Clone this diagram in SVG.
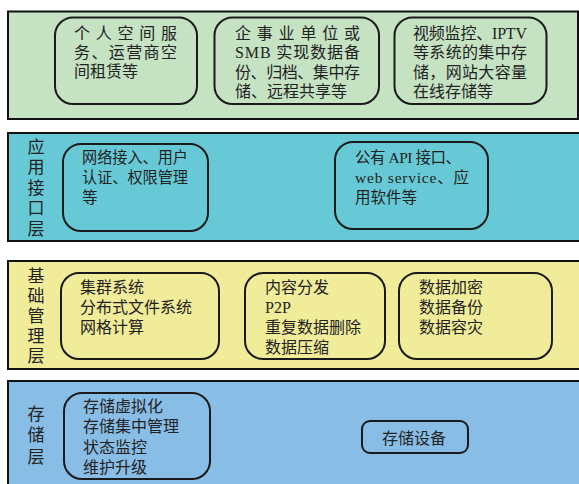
<svg xmlns="http://www.w3.org/2000/svg" width="579" height="484" viewBox="0 0 579 484">
<style>
.layer{stroke:#111;stroke-width:2}
.box{fill:none;stroke:#1a1a1a;stroke-width:2}
text{font-family:"Liberation Serif","Noto Sans CJK SC",serif;fill:#222;font-size:16px}
.lbl{font-size:17px;text-anchor:middle}
.s{font-size:15.5px}
</style>
<rect width="579" height="484" fill="#ffffff"/>
<g id="layer-app">
<rect class="layer" x="8" y="11.5" width="570" height="107.5" fill="#c5e3c3"/>
</g>
<g id="layer-api">
<rect class="layer" x="8" y="133" width="580" height="108" fill="#67c9d5"/>
<text class="lbl" x="36"><tspan x="36" y="152.5">应</tspan><tspan x="36" y="173">用</tspan><tspan x="36" y="193.5">接</tspan><tspan x="36" y="214">口</tspan><tspan x="36" y="234.5">层</tspan></text>
</g>
<g id="layer-mgmt">
<rect class="layer" x="8" y="261" width="580" height="108" fill="#f1ec9a"/>
<text class="lbl" x="36"><tspan x="36" y="281.5">基</tspan><tspan x="36" y="301.5">础</tspan><tspan x="36" y="321.5">管</tspan><tspan x="36" y="341.5">理</tspan><tspan x="36" y="362">层</tspan></text>
</g>
<g id="layer-storage">
<rect class="layer" x="8" y="381" width="580" height="110" fill="#88bde6"/>
<text class="lbl" x="36"><tspan x="36" y="419.5">存</tspan><tspan x="36" y="441">储</tspan><tspan x="36" y="462.5">层</tspan></text>
</g>
<g id="node-personal">
<rect class="box" x="55" y="17.5" width="142" height="86.5" rx="18"/>
<text x="74" y="39" textLength="103" lengthAdjust="spacing">个人空间服</text>
<text x="74" y="58" textLength="103" lengthAdjust="spacing">务、运营商空</text>
<text x="74" y="77">间租赁等</text>
</g>
<g id="node-enterprise">
<rect class="box" x="214.5" y="17.5" width="164.5" height="86.5" rx="18"/>
<text x="235" y="39" textLength="125" lengthAdjust="spacing">企事业单位或</text>
<text x="235" y="58" textLength="125" lengthAdjust="spacing">SMB 实现数据备</text>
<text x="235" y="77.5" textLength="125" lengthAdjust="spacing">份、归档、集中存</text>
<text x="235" y="97">储、远程共享等</text>
</g>
<g id="node-video">
<rect class="box" x="394.5" y="17.5" width="152" height="86.5" rx="18"/>
<text x="413" y="38.5" textLength="114" lengthAdjust="spacing">视频监控、IPTV</text>
<text x="413" y="58" textLength="114" lengthAdjust="spacing">等系统的集中存</text>
<text x="413" y="77.5" textLength="114" lengthAdjust="spacing">储，网站大容量</text>
<text x="413" y="97">在线存储等</text>
</g>
<g id="node-access">
<rect class="box" x="63" y="144" width="145" height="87" rx="18"/>
<text class="s" x="82" y="163" textLength="106" lengthAdjust="spacingAndGlyphs">网络接入、用户</text>
<text class="s" x="82" y="183" textLength="106" lengthAdjust="spacingAndGlyphs">认证、权限管理</text>
<text class="s" x="82" y="203">等</text>
</g>
<g id="node-publicapi">
<rect class="box" x="335" y="142" width="153" height="87" rx="18"/>
<text class="s" x="355" y="163" textLength="106" lengthAdjust="spacing">公有 API 接口、</text>
<text class="s" x="355" y="183" textLength="114" lengthAdjust="spacing">web service、应</text>
<text class="s" x="355" y="203">用软件等</text>
</g>
<g id="node-cluster">
<rect class="box" x="61" y="273" width="158" height="86" rx="18"/>
<text x="80" y="293">集群系统</text>
<text x="80" y="313">分布式文件系统</text>
<text x="80" y="333">网格计算</text>
</g>
<g id="node-content">
<rect class="box" x="245" y="273" width="140" height="86" rx="18"/>
<text x="265" y="293">内容分发</text>
<text x="265" y="313">P2P</text>
<text x="265" y="333">重复数据删除</text>
<text x="265" y="353">数据压缩</text>
</g>
<g id="node-data">
<rect class="box" x="399" y="273" width="153" height="86" rx="18"/>
<text x="419" y="293">数据加密</text>
<text x="419" y="313">数据备份</text>
<text x="419" y="333">数据容灾</text>
</g>
<g id="node-virt">
<rect class="box" x="64" y="393" width="146" height="86" rx="18"/>
<text x="83" y="412">存储虚拟化</text>
<text x="83" y="432">存储集中管理</text>
<text x="83" y="453">状态监控</text>
<text x="83" y="473">维护升级</text>
</g>
<g id="node-device">
<rect class="box" x="362" y="421" width="106" height="32" rx="8"/>
<text x="382" y="444">存储设备</text>
</g>
<g id="connectors"></g>
</svg>
